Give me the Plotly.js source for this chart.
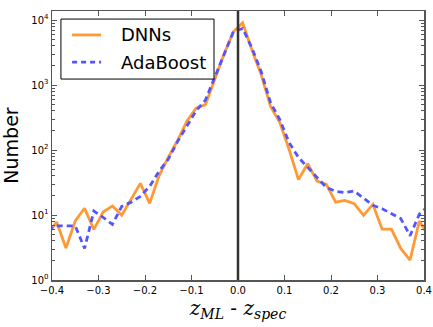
<!DOCTYPE html>
<html>
<head>
<meta charset="utf-8">
<script src="https://cdn.plot.ly/plotly-3.0.1.min.js"></script>
<style>
  html, body { margin: 0; padding: 0; background: #fff; }
  #plot { width: 433px; height: 327px; }
</style>
</head>
<body>
<div id="plot"></div>
<script>
// bin centres of the z_ML - z_spec histogram (0.02 wide bins)
const binCenters = [-0.41, -0.39, -0.37, -0.35, -0.33, -0.31, -0.29, -0.27, -0.25, -0.23,
                    -0.21, -0.19, -0.17, -0.15, -0.13, -0.11, -0.09, -0.07, -0.05, -0.03,
                    -0.01, 0.01, 0.03, 0.05, 0.07, 0.09, 0.11, 0.13, 0.15, 0.17,
                    0.19, 0.21, 0.23, 0.25, 0.27, 0.29, 0.31, 0.33, 0.35, 0.37,
                    0.39, 0.41];

const dnnCounts = [5.0, 7.8, 3.1, 8.1, 12.7, 6.0, 11.1, 13.8, 9.9, 17.4,
                   30.7, 15.1, 39.7, 77, 140, 277, 440, 500, 1200, 3000,
                   6600, 9100, 3470, 1435, 470, 264, 102, 35, 62, 33.3,
                   29.6, 15.8, 16.8, 15.0, 9.9, 14.6, 6.05, 6.05, 3.06, 2.03,
                   8.1, 4.7];

const adaCounts = [6.0, 6.8, 6.8, 6.8, 3.06, 11.5, 9.2, 7.2, 13.6, 15.7,
                   19.4, 27.6, 47, 72, 135, 237, 403, 590, 1350, 2900,
                   6600, 7450, 3720, 1600, 535, 293, 130, 77, 54, 37,
                   26.6, 23.1, 22.1, 23.4, 18.4, 14.1, 12.5, 10.6, 8.8, 4.8,
                   10.3, 13.9];

const seriesNames = ['DNNs', 'AdaBoost'];
const seriesColors = ['#ff9933', '#5555ff'];
const seriesDash = ['solid', '6px,4px'];

const xTickVals = [-0.4, -0.3, -0.2, -0.1, 0.0, 0.1, 0.2, 0.3, 0.4];
const xTickText = ['\u22120.4', '\u22120.3', '\u22120.2', '\u22120.1', '0.0', '0.1', '0.2', '0.3', '0.4'];
const yTickVals = [1, 10, 100, 1000, 10000];
const yTickText = ['10<sup>0</sup>', '10<sup>1</sup>', '10<sup>2</sup>', '10<sup>3</sup>', '10<sup>4</sup>'];

const minorVals = [];
for (let d = 1; d <= 10000; d *= 10) {
    for (let k = 2; k <= 9; k++) minorVals.push(d * k);
}

const traces = [dnnCounts, adaCounts].map((ys, i) => ({
    x: binCenters, y: ys, name: seriesNames[i],
    type: 'scatter', mode: 'lines',
    line: {color: seriesColors[i], width: 2.8, dash: seriesDash[i]}
}));

const axisCommon = {
    showgrid: false, zeroline: false,
    showline: true, linecolor: '#555', linewidth: 1.5, mirror: 'allticks',
    ticks: 'inside', ticklen: 5, tickcolor: '#555', tickwidth: 1,
    tickfont: {family: 'DejaVu Sans', size: 10, color: '#000'}
};

// hand-built legend box (matplotlib style), in paper coordinates
const legBox = {x0: 0.024, x1: 0.4355, y0: 0.747, y1: 0.970};
const legRows = [0.911, 0.810];
const shapes = [
    {type: 'line', xref: 'x', yref: 'paper', x0: 0, x1: 0, y0: 0, y1: 1,
     line: {color: '#333', width: 2.5}},
    {type: 'rect', xref: 'paper', yref: 'paper',
     x0: legBox.x0, x1: legBox.x1, y0: legBox.y0, y1: legBox.y1,
     fillcolor: '#fff', line: {color: '#000', width: 1}}
];
const annotations = [];
legRows.forEach((ry, i) => {
    shapes.push({type: 'line', xref: 'paper', yref: 'paper',
        x0: 0.054, x1: 0.132, y0: ry, y1: ry,
        line: {color: seriesColors[i], width: 2.8, dash: seriesDash[i] === 'solid' ? 'solid' : '5px,4px'}});
    annotations.push({xref: 'paper', yref: 'paper', x: 0.181, y: ry,
        xanchor: 'left', yanchor: 'middle', showarrow: false,
        text: seriesNames[i],
        font: {family: 'DejaVu Sans', size: 18, color: '#000'}});
});

const layout = {
    width: 433, height: 327,
    margin: {l: 52, r: 9, t: 11, b: 47},
    paper_bgcolor: '#fff', plot_bgcolor: '#fff',
    showlegend: false,
    xaxis: Object.assign({}, axisCommon, {
        range: [-0.4, 0.4],
        tickvals: xTickVals, ticktext: xTickText,
        title: {
            text: '<i>z<sub>ML</sub></i> - <i>z<sub>spec</sub></i>',
            font: {family: 'DejaVu Serif', size: 20, color: '#000'},
            standoff: 0
        }
    }),
    yaxis: Object.assign({}, axisCommon, {
        type: 'log',
        range: [0, 4.14],
        tickvals: yTickVals, ticktext: yTickText,
        minor: {tickvals: minorVals, ticks: 'inside', ticklen: 3, tickcolor: '#555', tickwidth: 1},
        title: {
            text: 'Number',
            font: {family: 'DejaVu Sans', size: 19, color: '#000'},
            standoff: 8
        }
    }),
    shapes: shapes,
    annotations: annotations
};

Plotly.newPlot('plot', traces, layout, {displayModeBar: false, staticPlot: true});
</script>
</body>
</html>
